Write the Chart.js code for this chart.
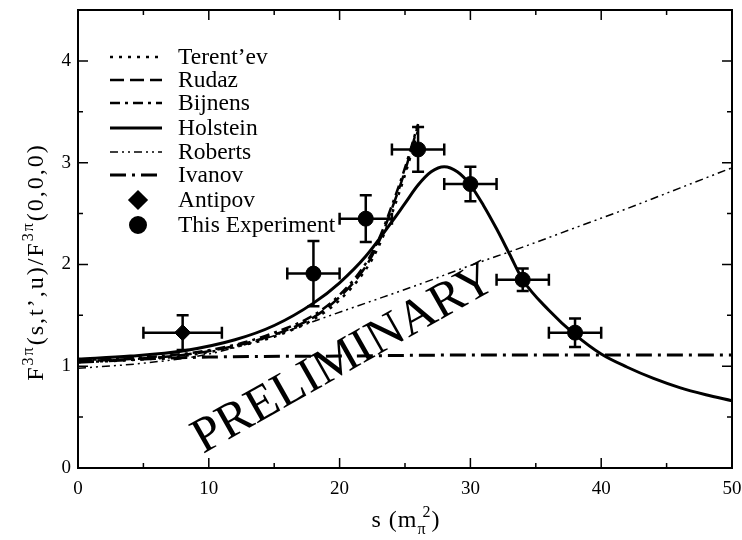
<!DOCTYPE html>
<html>
<head>
<meta charset="utf-8">
<script src="https://cdn.jsdelivr.net/npm/chart.js@4.4.1/dist/chart.umd.min.js"></script>
<style>
  body { margin: 0; background: #fff; }
  #grafico { display: block; }
</style>
</head>
<body>
<canvas id="grafico" width="742" height="540"></canvas>
<script>
// curvas teóricas
const sSteep = [0, 4, 8, 12, 15, 18, 20, 22, 23, 24, 25, 26];
const fTerentev = [1.04, 1.06, 1.10, 1.19, 1.29, 1.46, 1.65, 1.95, 2.18, 2.50, 2.88, 3.32];
const fRudaz = [1.05, 1.07, 1.11, 1.20, 1.31, 1.48, 1.68, 1.98, 2.22, 2.55, 2.92, 3.37];
const fBijnens = [1.06, 1.08, 1.12, 1.21, 1.33, 1.50, 1.70, 2.01, 2.25, 2.58, 2.95, 3.38];

const sHolstein = [0, 4, 8, 12, 15, 18, 20, 22, 24, 25, 26, 27, 28, 29, 30, 31, 32, 33, 34, 36, 38, 40, 42, 44, 46, 48, 50];
const fHolstein = [1.07, 1.10, 1.15, 1.26, 1.40, 1.62, 1.82, 2.08, 2.42, 2.60, 2.78, 2.91, 2.96, 2.91, 2.78, 2.58, 2.35, 2.10, 1.85, 1.55, 1.31, 1.12, 0.99, 0.88, 0.79, 0.72, 0.66];

const sRoberts = [0, 5, 10, 15, 18, 22, 26, 30, 34, 38, 42, 46, 50];
const fRoberts = [0.98, 1.03, 1.12, 1.30, 1.44, 1.62, 1.80, 1.99, 2.17, 2.36, 2.55, 2.75, 2.95];

const sIvanov = [0, 5, 10, 20, 30, 40, 50];
const fIvanov = [1.04, 1.07, 1.09, 1.10, 1.11, 1.11, 1.11];

// datos medidos
const sAntipov = [8];
const fAntipov = [1.33];
const errSAntipov = [3];
const errFAntipov = [0.17];

const sExp = [18, 22, 26, 30, 34, 38];
const fExp = [1.91, 2.45, 3.13, 2.79, 1.85, 1.33];
const errSExp = [2, 2, 2, 2, 2, 2];
const errFExp = [0.32, 0.23, 0.22, 0.17, 0.11, 0.14];

const xTicks = [0, 10, 20, 30, 40, 50];
const yTicks = [0, 1, 2, 3, 4];

const serif = '"Liberation Serif", "DejaVu Serif", serif';

const toPoints = (xs, ys) => xs.map((x, i) => ({ x, y: ys[i] }));

const lineSet = (label, xs, ys, width, dash) => ({
  label,
  data: toPoints(xs, ys),
  showLine: true,
  borderColor: '#000',
  backgroundColor: '#000',
  borderWidth: width,
  borderDash: dash,
  pointRadius: 0,
  cubicInterpolationMode: 'monotone'
});

const markSet = (label, xs, ys, ex, ey, style, radius) => ({
  label,
  data: toPoints(xs, ys),
  errS: ex,
  errF: ey,
  showLine: false,
  pointStyle: style,
  pointRadius: radius,
  pointBackgroundColor: '#000',
  pointBorderColor: '#000',
  borderColor: '#000',
  backgroundColor: '#000'
});

function drawRich(ctx, parts, x, y, spacing) {
  ctx.letterSpacing = spacing + 'px';
  let total = 0;
  parts.forEach(p => {
    ctx.font = p.size + 'px ' + serif;
    p.w = ctx.measureText(p.t).width;
    total += p.adv === undefined ? p.w : p.w * p.adv;
  });
  let cx = x - total / 2;
  ctx.textAlign = 'left';
  ctx.textBaseline = 'alphabetic';
  parts.forEach(p => {
    ctx.font = p.size + 'px ' + serif;
    ctx.fillText(p.t, cx, y + (p.dy || 0));
    cx += p.adv === undefined ? p.w : p.w * p.adv;
  });
  ctx.letterSpacing = '0px';
}

const marcoPlugin = {
  id: 'marco',
  beforeDatasetsDraw(chart) {
    const ctx = chart.ctx;
    ctx.save();
    ctx.fillStyle = '#000';
    ctx.font = '50px ' + serif;
    ctx.translate(203, 454);
    ctx.rotate(-29.5 * Math.PI / 180);
    ctx.textAlign = 'left';
    ctx.textBaseline = 'alphabetic';
    ctx.fillText('PRELIMINARY', 0, 0);
    ctx.restore();
  },
  afterDatasetsDraw(chart) {
    const ctx = chart.ctx;
    const a = chart.chartArea;
    const xs = chart.scales.x;
    const ys = chart.scales.y;
    ctx.save();
    ctx.strokeStyle = '#000';

    // barras de error
    chart.data.datasets.forEach(ds => {
      if (!ds.errS) return;
      ctx.lineWidth = 2.5;
      ds.data.forEach((p, i) => {
        const px = xs.getPixelForValue(p.x);
        const py = ys.getPixelForValue(p.y);
        const x1 = xs.getPixelForValue(p.x - ds.errS[i]);
        const x2 = xs.getPixelForValue(p.x + ds.errS[i]);
        const y1 = ys.getPixelForValue(p.y - ds.errF[i]);
        const y2 = ys.getPixelForValue(p.y + ds.errF[i]);
        ctx.beginPath();
        ctx.moveTo(x1, py); ctx.lineTo(x2, py);
        ctx.moveTo(x1, py - 6); ctx.lineTo(x1, py + 6);
        ctx.moveTo(x2, py - 6); ctx.lineTo(x2, py + 6);
        ctx.moveTo(px, y1); ctx.lineTo(px, y2);
        ctx.moveTo(px - 6, y1); ctx.lineTo(px + 6, y1);
        ctx.moveTo(px - 6, y2); ctx.lineTo(px + 6, y2);
        ctx.stroke();
      });
    });

    // marco y marcas hacia dentro
    ctx.lineWidth = 2;
    ctx.strokeRect(a.left, a.top, a.right - a.left, a.bottom - a.top);
    ctx.lineWidth = 1.5;
    ctx.beginPath();
    for (let v = 0; v <= 50; v += 5) {
      const px = xs.getPixelForValue(v);
      const len = v % 10 === 0 ? 10 : 5;
      ctx.moveTo(px, a.bottom); ctx.lineTo(px, a.bottom - len);
      ctx.moveTo(px, a.top); ctx.lineTo(px, a.top + len);
    }
    for (let v = 0; v <= 4.5; v += 0.5) {
      const py = ys.getPixelForValue(v);
      const len = v % 1 === 0 ? 10 : 5;
      ctx.moveTo(a.left, py); ctx.lineTo(a.left + len, py);
      ctx.moveTo(a.right, py); ctx.lineTo(a.right - len, py);
    }
    ctx.stroke();

    // leyenda
    const rowY = [57, 80, 103, 128, 152, 175, 200, 225];
    chart.data.datasets.forEach((ds, i) => {
      const y = rowY[i];
      ctx.setLineDash([]);
      if (ds.showLine) {
        ctx.lineWidth = ds.borderWidth;
        ctx.setLineDash(ds.borderDash || []);
        ctx.beginPath();
        ctx.moveTo(110, y);
        ctx.lineTo(162, y);
        ctx.stroke();
        ctx.setLineDash([]);
      } else {
        Chart.helpers.drawPoint(ctx, {
          pointStyle: ds.pointStyle,
          radius: ds.pointRadius,
          rotation: 0,
          borderWidth: 1
        }, 138, y);
        ctx.fillStyle = '#000';
        ctx.fill();
      }
      ctx.fillStyle = '#000';
      ctx.font = '23.5px ' + serif;
      ctx.textAlign = 'left';
      ctx.textBaseline = 'middle';
      ctx.fillText(ds.label, 178, y + 1);
    });

    // títulos de ejes
    ctx.fillStyle = '#000';
    drawRich(ctx, [
      { t: 's (m', size: 24 },
      { t: 'π', size: 16, dy: 7, adv: 0.55 },
      { t: '2', size: 16, dy: -10 },
      { t: ')', size: 24 }
    ], 406, 527, 1);

    ctx.translate(43, 262);
    ctx.rotate(-Math.PI / 2);
    drawRich(ctx, [
      { t: 'F', size: 24 },
      { t: '3π', size: 16, dy: -10 },
      { t: '(s,t’,u)/F', size: 24 },
      { t: '3π', size: 16, dy: -10 },
      { t: '(0,0,0)', size: 24 }
    ], 0, 0, 2);
    ctx.restore();
  }
};

new Chart(document.getElementById('grafico'), {
  type: 'scatter',
  data: {
    datasets: [
      lineSet('Terent’ev', sSteep, fTerentev, 2.5, [3, 6]),
      lineSet('Rudaz', sSteep, fRudaz, 2.5, [14, 6]),
      lineSet('Bijnens', sSteep, fBijnens, 2.5, [10, 5, 3, 5]),
      lineSet('Holstein', sHolstein, fHolstein, 3, []),
      lineSet('Roberts', sRoberts, fRoberts, 1.5, [8, 4, 2, 4, 2, 4]),
      lineSet('Ivanov', sIvanov, fIvanov, 3, [16, 6, 3, 6]),
      markSet('Antipov', sAntipov, fAntipov, errSAntipov, errFAntipov, 'rectRot', 8),
      markSet('This Experiment', sExp, fExp, errSExp, errFExp, 'circle', 7.5)
    ]
  },
  options: {
    responsive: false,
    animation: false,
    devicePixelRatio: 1,
    layout: { padding: { top: 10, right: 10, left: 0, bottom: 0 } },
    plugins: {
      legend: { display: false },
      tooltip: { enabled: false }
    },
    scales: {
      x: {
        type: 'linear',
        min: 0,
        max: 50,
        grid: { display: false, drawTicks: false },
        border: { display: false },
        afterFit: s => { s.height = 72; s.paddingLeft = 0; s.paddingRight = 0; },
        afterBuildTicks: s => { s.ticks = xTicks.map(v => ({ value: v })); },
        ticks: { color: '#000', padding: 10, font: { family: serif, size: 19 } }
      },
      y: {
        type: 'linear',
        min: 0,
        max: 4.5,
        grid: { display: false, drawTicks: false },
        border: { display: false },
        afterFit: s => { s.width = 78; s.paddingTop = 0; s.paddingBottom = 0; },
        afterBuildTicks: s => { s.ticks = yTicks.map(v => ({ value: v })); },
        ticks: { color: '#000', padding: 7, font: { family: serif, size: 19 } }
      }
    }
  },
  plugins: [marcoPlugin]
});
</script>
</body>
</html>
